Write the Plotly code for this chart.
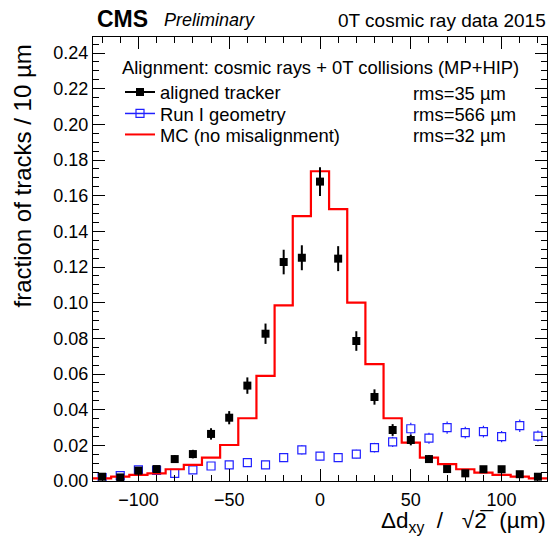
import plotly.graph_objects as go

# ---- data ----
bin_centers = [-120, -110, -100, -90, -80, -70, -60, -50, -40, -30, -20, -10,
               0, 10, 20, 30, 40, 50, 60, 70, 80, 90, 100, 110, 120]
bin_width = 10

aligned = [0.0024, 0.0020, 0.0058, 0.0067, 0.0123, 0.0151, 0.0264, 0.0355, 0.0535,
           0.0826, 0.1228, 0.1252, 0.1679, 0.1247, 0.0785, 0.0471, 0.0286, 0.0230,
           0.0123, 0.0067, 0.0043, 0.0066, 0.0066, 0.0038, 0.0024]
aligned_err = [0.0010, 0.0009, 0.0015, 0.0016, 0.0022, 0.0024, 0.0032, 0.0037, 0.0046,
               0.0057, 0.0069, 0.0070, 0.0081, 0.0070, 0.0055, 0.0043, 0.0033, 0.0030,
               0.0022, 0.0016, 0.0013, 0.0016, 0.0016, 0.0012, 0.0010]

run1 = [0.0019, 0.0030, 0.0062, 0.0060, 0.0043, 0.0062, 0.0084, 0.0090, 0.0103,
        0.0090, 0.0131, 0.0174, 0.0140, 0.0131, 0.0151, 0.0187, 0.0219, 0.0293,
        0.0240, 0.0299, 0.0271, 0.0277, 0.0249, 0.0310, 0.0252]
run1_err = [0.0009, 0.0011, 0.0016, 0.0015, 0.0013, 0.0016, 0.0018, 0.0019, 0.0020,
            0.0019, 0.0023, 0.0026, 0.0023, 0.0023, 0.0024, 0.0027, 0.0029, 0.0034,
            0.0031, 0.0034, 0.0033, 0.0033, 0.0031, 0.0035, 0.0031]

mc = [0.0015, 0.0024, 0.0034, 0.0043, 0.0066, 0.0090, 0.0131, 0.0202, 0.0352,
      0.0590, 0.0985, 0.1485, 0.1737, 0.1525, 0.1000, 0.0656, 0.0352, 0.0215,
      0.0131, 0.0095, 0.0066, 0.0047, 0.0034, 0.0024, 0.0015]

series_names = ["aligned tracker", "Run I geometry", "MC (no misalignment)"]
rms_labels = ["rms=35 µm", "rms=566 µm", "rms=32 µm"]
legend_header = "Alignment: cosmic rays + 0T collisions (MP+HIP)"

x_range = [-125, 125]
y_range = [0, 0.249]

# histogram step edges for the MC
mc_edges = [c - bin_width / 2 for c in bin_centers] + [bin_centers[-1] + bin_width / 2]
mc_steps = mc + [mc[-1]]

FONT = "Liberation Sans, Arial, Helvetica, sans-serif"
BLUE = "#2020ff"

L, R, T, B = 93, 4, 37, 67
W, H = 551, 548
pw, ph = W - L - R, H - T - B

def px(xp):
    return (xp - L) / pw

def py(yp):
    return (H - B - yp) / ph

fig = go.Figure()

# Run I geometry (open squares)
fig.add_trace(go.Scatter(
    x=bin_centers, y=run1, mode="markers", showlegend=False,
    marker=dict(symbol="square", size=8, color="white", line=dict(color=BLUE, width=1.2)),
    error_y=dict(type="data", array=run1_err, color=BLUE, thickness=1.2, width=0),
))
# MC histogram
fig.add_trace(go.Scatter(
    x=mc_edges, y=mc_steps, mode="lines", line_shape="hv", showlegend=False,
    line=dict(color="red", width=2.2),
))
# aligned tracker
fig.add_trace(go.Scatter(
    x=bin_centers, y=aligned, mode="markers", showlegend=False,
    marker=dict(symbol="square", size=8, color="black"),
    error_y=dict(type="data", array=aligned_err, color="black", thickness=2, width=0),
))

# legend entries (one legend per row for exact ROOT-like spacing)
fig.add_trace(go.Scatter(x=[None], y=[None], mode="lines+markers", name=series_names[0],
                         legend="legend",
                         marker=dict(symbol="square", size=8, color="black"),
                         line=dict(color="black", width=2)))
fig.add_trace(go.Scatter(x=[None], y=[None], mode="lines+markers", name=series_names[1],
                         legend="legend2",
                         marker=dict(symbol="square-open", size=8, color=BLUE, line=dict(width=1.2)),
                         line=dict(color=BLUE, width=1.5)))
fig.add_trace(go.Scatter(x=[None], y=[None], mode="lines", name=series_names[2],
                         legend="legend3",
                         line=dict(color="red", width=2)))

axis_common = dict(
    showline=True, linecolor="black", linewidth=1, mirror="ticks",
    ticks="inside", ticklen=12, tickwidth=1, tickcolor="black",
    showgrid=False, zeroline=False,
    tickfont=dict(family=FONT, size=18, color="black"),
)

fig.update_xaxes(range=x_range, tick0=0, dtick=50,
                 minor=dict(ticks="inside", ticklen=6, dtick=10, tickcolor="black", showgrid=False),
                 ticklabelstandoff=2, **axis_common)
fig.update_yaxes(range=y_range, tick0=0, dtick=0.02, tickformat=".2f",
                 minor=dict(ticks="inside", ticklen=6, dtick=0.005, tickcolor="black", showgrid=False),
                 ticklabelstandoff=0, **axis_common)

annotations = [
    dict(text="<b>CMS</b>", x=px(95), y=py(19), xanchor="left", yanchor="middle",
         font=dict(family=FONT, size=23, color="black")),
    dict(text="<i>Preliminary</i>", x=px(162), y=py(20), xanchor="left", yanchor="middle",
         font=dict(family=FONT, size=18, color="black")),
    dict(text="0T cosmic ray data 2015", x=px(548), y=py(20), xanchor="right", yanchor="middle",
         font=dict(family=FONT, size=19, color="black")),
    dict(text="Δd<sub>xy</sub>  /   √2̅  (µm)", x=px(548), y=py(522), xanchor="right", yanchor="middle",
         font=dict(family=FONT, size=22.5, color="black")),
    dict(text="fraction of tracks / 10 µm", x=px(22), y=py(43), xanchor="center", yanchor="top",
         textangle=-90, font=dict(family=FONT, size=24, color="black")),
    dict(text=legend_header, x=px(120), y=py(68), xanchor="left", yanchor="middle",
         font=dict(family=FONT, size=18.4, color="black")),
]
for txt, yp in zip(rms_labels, [93, 114.5, 135.5]):
    annotations.append(dict(text=txt, x=px(411), y=py(yp), xanchor="left", yanchor="middle",
                            font=dict(family=FONT, size=18.4, color="black")))
for a in annotations:
    a.update(xref="paper", yref="paper", showarrow=False)

def legend_box(yp):
    return dict(x=px(120), y=py(yp), xanchor="left", yanchor="middle",
                bgcolor="rgba(0,0,0,0)", borderwidth=0,
                font=dict(family=FONT, size=18.4, color="black"),
                itemwidth=30)

fig.update_layout(
    width=W, height=H,
    margin=dict(l=L, r=R, t=T, b=B),
    paper_bgcolor="white", plot_bgcolor="white",
    annotations=annotations,
    legend=legend_box(92),
    legend2=legend_box(113.5),
    legend3=legend_box(134.5),
)

fig.write_html("out.html", config={"displayModeBar": False},
               post_script="document.body.style.margin='0';")
